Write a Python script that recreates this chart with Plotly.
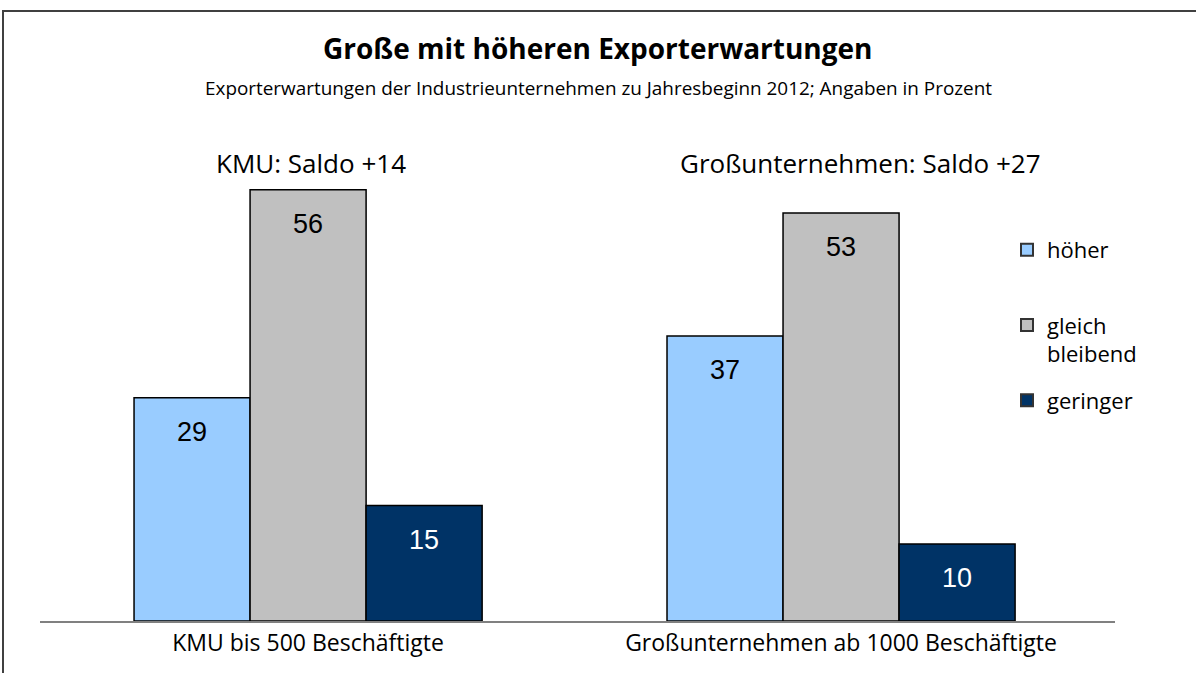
import plotly.graph_objects as go

categories = ["KMU bis 500 Beschäftigte", "Großunternehmen ab 1000 Beschäftigte"]
series_names = ["höher<br> ", "gleich<br>bleibend", "geringer"]
hoeher = [29, 37]
gleich = [56, 53]
geringer = [15, 10]
saldo_labels = ["KMU: Saldo +14", "Großunternehmen: Saldo +27"]

colors = ["#99CCFF", "#C0C0C0", "#003366"]
text_colors = ["#000000", "#000000", "#FFFFFF"]
values = [hoeher, gleich, geringer]

W, H = 1196, 673
ml, mr, mt, mb = 40, 81, 159, 52
pw = W - ml - mr
ph = H - mt - mb

FONT = "Open Sans"

bw = 0.2177
offsets = [-bw, 0.0, bw]
group_x = list(range(len(categories)))

fig = go.Figure()
annotations = []
for i, (name, vals) in enumerate(zip(series_names, values)):
    xs = [g + offsets[i] for g in group_x]
    fig.add_trace(go.Bar(
        x=xs, y=vals, width=bw, name=name, showlegend=False,
        marker=dict(color=colors[i], line=dict(color="#000000", width=1.5)),
        hoverinfo="y",
    ))
    for xv, yv in zip(xs, vals):
        annotations.append(dict(
            x=xv, y=yv, xref="x", yref="y", text=str(yv), showarrow=False,
            yshift=-34, yanchor="middle",
            font=dict(family="Liberation Sans", size=27, color=text_colors[i]),
        ))
    fig.add_trace(go.Scatter(
        x=[None], y=[None], mode="markers", name=name, legendgroup=str(i),
        marker=dict(symbol="square", size=16, color=colors[i],
                    line=dict(color="#333333", width=1.5)),
    ))

for g, lab in zip(group_x, saldo_labels):
    annotations.append(dict(
        x=g, y=1.0, xref="x", yref="paper", yshift=-4, text=lab, showarrow=False,
        yanchor="middle", xshift=3 if g == 0 else 19,
        font=dict(family=FONT, size=26, color="#000000"),
    ))

cx = (W / 2 - ml) / pw
annotations.append(dict(
    x=cx, y=(H - mb - 48) / ph, xref="paper", yref="paper",
    text="<b>Große mit höheren Exporterwartungen</b>",
    showarrow=False, yanchor="middle", xanchor="center",
    font=dict(family=FONT, size=28, color="#000000"),
))
annotations.append(dict(
    x=cx, y=(H - mb - 88) / ph, xref="paper", yref="paper",
    text="Exporterwartungen der Industrieunternehmen zu Jahresbeginn 2012; Angaben in Prozent",
    showarrow=False, yanchor="middle", xanchor="center",
    font=dict(family=FONT, size=18.9, color="#000000"),
))

fig.update_layout(
    width=W, height=H,
    margin=dict(l=ml, r=mr, t=mt, b=mb),
    paper_bgcolor="white", plot_bgcolor="white",
    barmode="overlay",
    xaxis=dict(
        range=[-0.503, 1.514], tickmode="array", tickvals=group_x, ticktext=categories,
        showgrid=False, zeroline=False, showline=True, linecolor="#808080", linewidth=2,
        ticks="", tickfont=dict(family=FONT, size=23, color="#000000"),
        fixedrange=True,
    ),
    yaxis=dict(range=[0, 60], visible=False, fixedrange=True),
    legend=dict(
        x=(1007 - ml) / pw, y=(H - mb - 229) / ph, xanchor="left", yanchor="top",
        xref="paper", yref="paper",
        font=dict(family=FONT, size=22, color="#000000"),
        tracegroupgap=15, valign="top", bgcolor="rgba(0,0,0,0)",
        itemsizing="constant",
    ),
    annotations=annotations,
    shapes=[dict(
        type="rect", xref="paper", yref="paper",
        x0=(3 - ml) / pw, x1=(1210 - ml) / pw,
        y0=(H - mb - 690) / ph, y1=(H - mb - 11) / ph,
        line=dict(color="#404040", width=2), fillcolor="rgba(0,0,0,0)", layer="below",
    )],
)

fig.write_html("out.html", config={"displayModeBar": False},
               post_script="document.body.style.margin='0';")
